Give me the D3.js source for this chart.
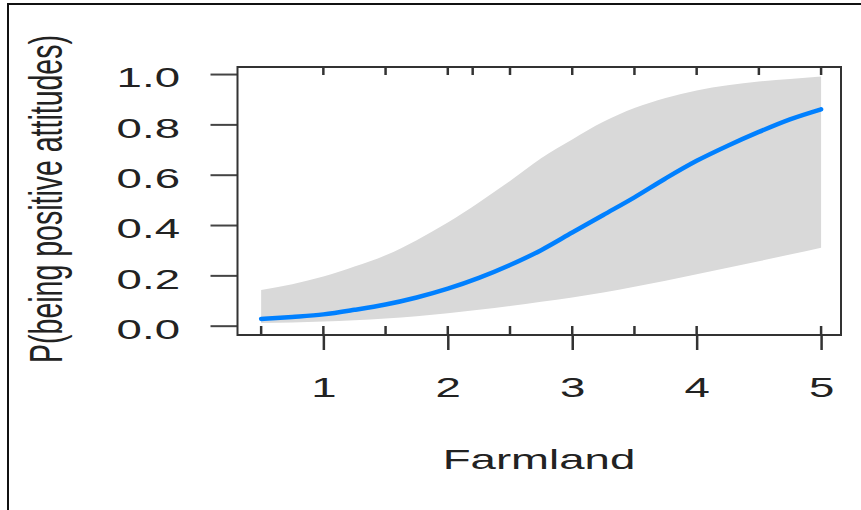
<!DOCTYPE html>
<html>
<head>
<meta charset="utf-8">
<script src="https://cdn.jsdelivr.net/npm/d3@7"></script>
<style>
    body { margin: 0; background: #fff; }
    text { font-family: "Liberation Sans", Arial, sans-serif; fill: #222; }
</style>
</head>
<body>
<div id="chart"></div>
<script>

// Effect of Farmland on P(being positive attitudes)
let farmland = [0.5, 0.75, 1, 1.25, 1.5, 1.75, 2, 2.25, 2.5, 2.75, 3, 3.25, 3.5, 3.75, 4, 4.25, 4.5, 4.75, 5];
let fitValues = [0.027, 0.035, 0.045, 0.063, 0.084, 0.112, 0.147, 0.19, 0.241, 0.30, 0.37, 0.44, 0.51, 0.585, 0.655, 0.715, 0.77, 0.82, 0.86];
let upperValues = [0.142, 0.165, 0.195, 0.235, 0.28, 0.34, 0.41, 0.49, 0.575, 0.665, 0.74, 0.81, 0.865, 0.905, 0.935, 0.955, 0.97, 0.98, 0.99];
let lowerValues = [0.011, 0.013, 0.017, 0.022, 0.029, 0.038, 0.049, 0.063, 0.078, 0.095, 0.112, 0.132, 0.155, 0.179, 0.204, 0.23, 0.256, 0.283, 0.31];

// rug marks along bottom and top of the panel
let rugBottom = [0.5, 1, 1.5, 2, 2.5, 3, 3.5, 4, 5];
let rugTop = [1, 1.5, 2, 2.2, 2.5, 3, 3.5, 4, 4.5, 5];

let xTicks = [1, 2, 3, 4, 5];
let yTicks = [0, 0.2, 0.4, 0.6, 0.8, 1.0];

let width = 861, height = 510;
let panel = {left: 237.5, right: 841, top: 67, bottom: 335};
let stretch = 1.6;   // the picture is squeezed wide, so text is too
let fontSize = 28.5;

let svg = d3.select("#chart").append("svg")
    .attr("width", width)
    .attr("height", height);

// frame of the picture (only top and left show)
svg.append("path")
    .attr("d", "M8,510 L8,4 L861,4")
    .attr("fill", "none")
    .attr("stroke", "#111")
    .attr("stroke-width", 2);

let x = d3.scaleLinear()
    .domain([0.31, 5.16])
    .range([panel.left, panel.right]);

let y = d3.scaleLinear()
    .domain([-0.037, 1.028])
    .range([panel.bottom, panel.top]);

let rows = farmland.map((f, i) => ({f: f, fit: fitValues[i], lo: lowerValues[i], hi: upperValues[i]}));

// ---- BAND ----
let band = d3.area()
    .x(d => x(d.f))
    .y0(d => y(d.lo))
    .y1(d => y(d.hi))
    .curve(d3.curveMonotoneX);

svg.append("path")
    .datum(rows)
    .attr("d", band)
    .attr("fill", "#d9d9d9");

// ---- FIT LINE ----
let line = d3.line()
    .x(d => x(d.f))
    .y(d => y(d.fit))
    .curve(d3.curveMonotoneX);

svg.append("path")
    .datum(rows)
    .attr("d", line)
    .attr("fill", "none")
    .attr("stroke", "#0080ff")
    .attr("stroke-width", 4.5)
    .attr("stroke-linecap", "round");

// ---- RUGS ----
svg.selectAll(".rug-bottom")
    .data(rugBottom)
    .enter().append("line")
    .attr("class", "rug-bottom")
    .attr("x1", d => x(d)).attr("x2", d => x(d))
    .attr("y1", panel.bottom - 9).attr("y2", panel.bottom)
    .attr("stroke", "#333").attr("stroke-width", 2.5);

svg.selectAll(".rug-top")
    .data(rugTop)
    .enter().append("line")
    .attr("class", "rug-top")
    .attr("x1", d => x(d)).attr("x2", d => x(d))
    .attr("y1", panel.top).attr("y2", panel.top + 8)
    .attr("stroke", "#333").attr("stroke-width", 2.5);

// ---- AXES ----
let xAxis = d3.axisBottom(x)
    .tickValues(xTicks)
    .tickSize(15)
    .tickFormat(d3.format("d"));

let yAxis = d3.axisLeft(y)
    .tickValues(yTicks)
    .tickSize(27)
    .tickFormat(d3.format(".1f"));

let xAxisGroup = svg.append("g")
    .attr("class", "x-axis")
    .attr("transform", "translate(0," + panel.bottom + ")")
    .call(xAxis);

let yAxisGroup = svg.append("g")
    .attr("class", "y-axis")
    .attr("transform", "translate(" + panel.left + ",0)")
    .call(yAxis);

svg.selectAll(".domain").remove();

xAxisGroup.selectAll("line").attr("stroke", "#333").attr("stroke-width", 2.5);
yAxisGroup.selectAll("line").attr("stroke", "#444").attr("stroke-width", 2);

xAxisGroup.selectAll("text")
    .attr("y", 0)
    .attr("dy", 0)
    .attr("transform", "translate(0,62) scale(" + stretch + ",1)")
    .attr("font-size", fontSize)
    .style("fill", "#222");

yAxisGroup.selectAll("text")
    .attr("x", 0)
    .attr("dy", "0.45em")
    .attr("transform", "translate(-57.5,0) scale(" + stretch + ",1)")
    .attr("font-size", fontSize)
    .style("fill", "#222");

svg.selectAll(".tick text").attr("font-family", null);

// panel box
svg.append("rect")
    .attr("x", panel.left)
    .attr("y", panel.top)
    .attr("width", panel.right - panel.left)
    .attr("height", panel.bottom - panel.top)
    .attr("fill", "none")
    .attr("stroke", "#333")
    .attr("stroke-width", 2);

// ---- TITLES ----
svg.append("text")
    .attr("class", "axis-title")
    .attr("text-anchor", "middle")
    .attr("font-size", fontSize)
    .attr("transform", "translate(539,469) scale(" + stretch + ",1)")
    .text("Farmland");

svg.append("text")
    .attr("class", "axis-title")
    .attr("text-anchor", "middle")
    .attr("font-size", fontSize)
    .attr("transform", "translate(62,199) scale(" + stretch + ",1) rotate(-90)")
    .text("P(being positive attitudes)");

</script>
</body>
</html>
